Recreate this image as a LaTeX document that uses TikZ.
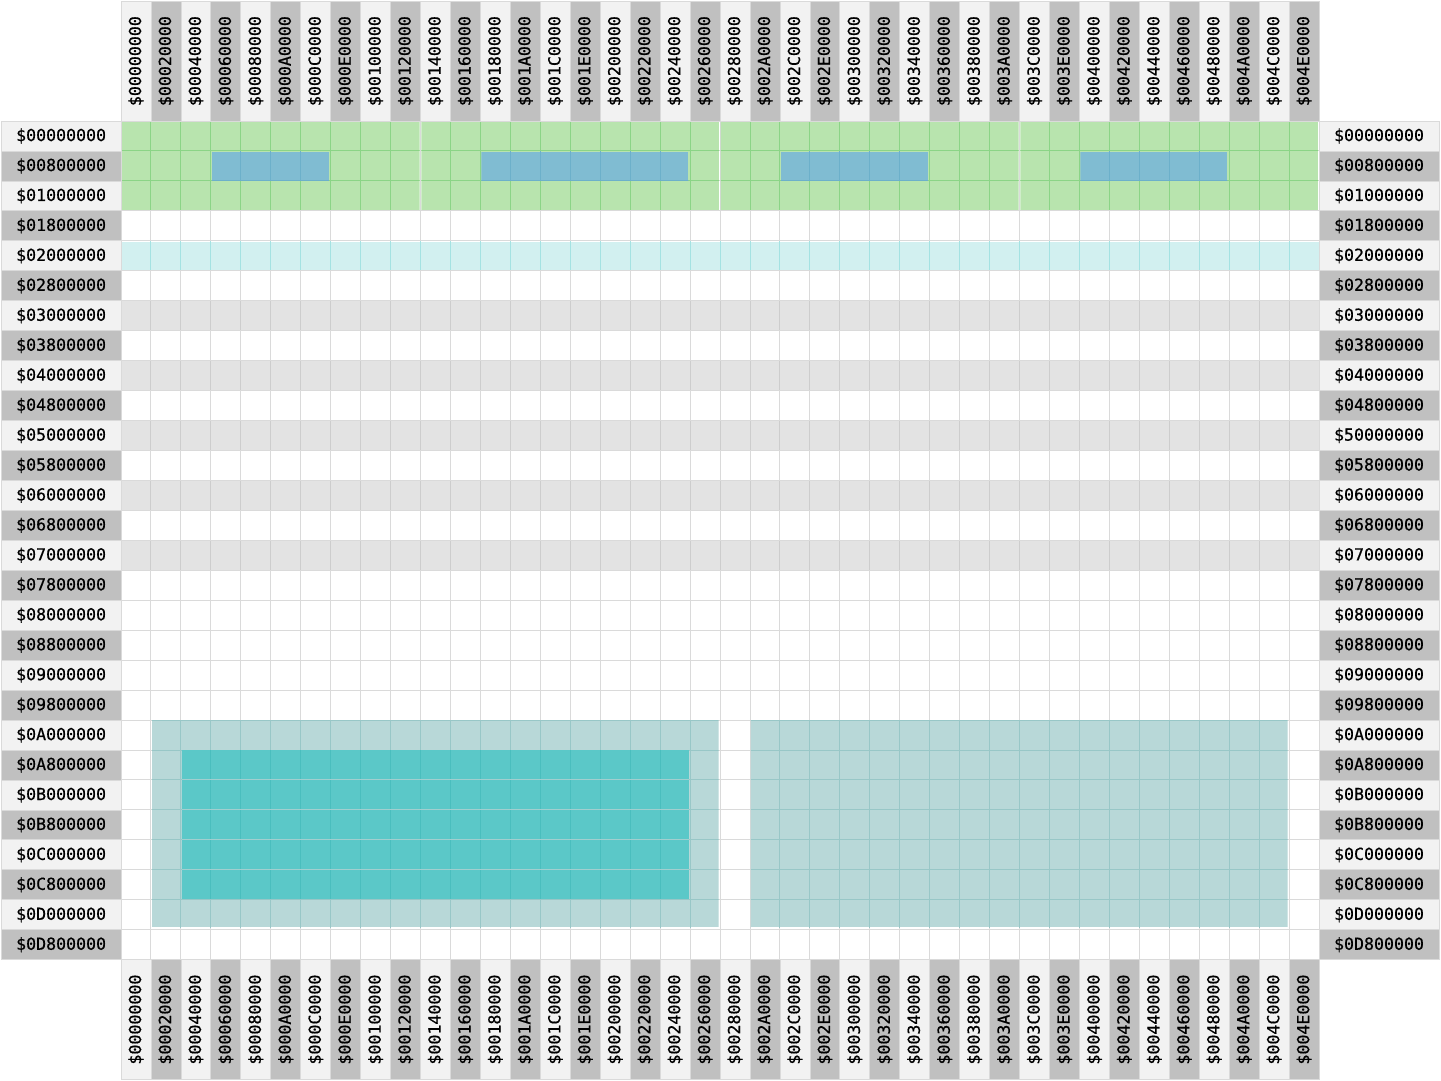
\documentclass[tikz,border=0pt]{standalone}
\usepackage{fontspec}
\newfontfamily\labfont[FakeBold=0.6]{DejaVu Sans Mono}
\definecolor{lab0}{HTML}{F2F2F2}
\definecolor{lab1}{HTML}{C0C0C0}
\definecolor{labborder}{HTML}{DADADA}
\definecolor{gridline}{HTML}{DADADA}
\definecolor{rowgray}{HTML}{E3E3E3}
\definecolor{rowgrayline}{HTML}{CDCDCD}
\definecolor{cyanfill}{HTML}{D2F0F0}
\definecolor{cyanline}{HTML}{A4E2E2}
\definecolor{greenfill}{HTML}{B8E4AE}
\definecolor{greenline}{HTML}{8BD486}
\definecolor{bluefill}{HTML}{80BCD2}
\definecolor{blueline}{HTML}{6CB0CA}
\definecolor{tealfill}{HTML}{B8D8D8}
\definecolor{tealline}{HTML}{98C7C7}
\definecolor{innerfill}{HTML}{5BC8C8}
\definecolor{innerline}{HTML}{4ABEBE}
\definecolor{innerhline}{HTML}{A2CFCF}
\tikzset{
  labcell/.style={draw=labborder, line width=0.8pt, inner sep=0pt,
    minimum width=119.8pt, minimum height=29.95pt,
    font=\labfont\fontsize{16.6}{18}\selectfont, text=black},
  gline/.style={line width=1pt}
}
\newcommand{\cellgrid}[1]{%
  \foreach \gc in {0,...,40} { \draw[#1, gline] (\gc,0) -- (\gc,28); }
  \foreach \gr in {0,...,28} { \draw[#1, gline] (0,\gr) -- (40,\gr); }}
\newcommand{\region}[6]{%
  \begin{scope}
    \clip (#1,#2) rectangle (#3,#4);
    \fill[#5] (#1,#2) rectangle (#3,#4);
    \cellgrid{#6}
  \end{scope}}
\begin{document}
\begin{tikzpicture}[x=29.95pt,y=-29.95pt]
\useasboundingbox[fill=white] (-4.04,-4.04) rectangle (44.07,32.05);
% gray rows
\foreach \r in {6,8,10,12,14} {
  \fill[rowgray] (0,\r) rectangle (40,\r+1);
}
% base grid
\cellgrid{gridline}
\foreach \r in {6,8,10,12,14} {
  \begin{scope}
    \clip (0,\r+0.03) rectangle (40,\r+0.97);
    \foreach \gc in {0,...,40} { \draw[rowgrayline, gline] (\gc,\r) -- (\gc,\r+1); }
  \end{scope}
}
% cyan row
\region{0}{4.03}{40}{4.97}{cyanfill}{cyanline}
% green blocks
\foreach \k in {0,1,2,3} {
  \region{10*\k+0.03}{0.02}{10*\k+9.97}{2.97}{greenfill}{greenline}
}
% blue blocks
\region{3.03}{1.03}{6.94}{1.97}{bluefill}{blueline}
\region{12.03}{1.03}{18.94}{1.97}{bluefill}{blueline}
\region{22.03}{1.03}{26.94}{1.97}{bluefill}{blueline}
\region{32.03}{1.03}{36.94}{1.97}{bluefill}{blueline}
% teal regions
\region{1.03}{20.03}{19.95}{26.92}{tealfill}{tealline}
\region{21.03}{20.03}{38.95}{26.92}{tealfill}{tealline}
% inner teal
\begin{scope}
  \clip (2.03,21.03) rectangle (18.96,25.97);
  \fill[innerfill] (2,21) rectangle (19,26);
  \foreach \c in {3,...,18} { \draw[innerline, gline] (\c,21) -- (\c,26); }
  \foreach \r in {22,...,25} { \draw[innerhline, gline] (2,\r) -- (19,\r); }
\end{scope}
% row labels
\foreach \lab [count=\i from 0, evaluate=\i as \m using {int(mod(\i,2))}] in
 {00000000,00800000,01000000,01800000,02000000,02800000,03000000,03800000,
  04000000,04800000,05000000,05800000,06000000,06800000,07000000,07800000,
  08000000,08800000,09000000,09800000,0A000000,0A800000,0B000000,0B800000,
  0C000000,0C800000,0D000000,0D800000} {
  \node[labcell, fill=lab\m] (l\i) at (-2,\i+0.5) {\$\lab};
}
\foreach \lab [count=\i from 0, evaluate=\i as \m using {int(mod(\i,2))}] in
 {00000000,00800000,01000000,01800000,02000000,02800000,03000000,03800000,
  04000000,04800000,50000000,05800000,06000000,06800000,07000000,07800000,
  08000000,08800000,09000000,09800000,0A000000,0A800000,0B000000,0B800000,
  0C000000,0C800000,0D000000,0D800000} {
  \node[labcell, fill=lab\m] (r\i) at (42,\i+0.5) {\$\lab};
}
% column labels
\foreach \lab [count=\i from 0, evaluate=\i as \m using {int(mod(\i,2))}] in
 {00000000,00020000,00040000,00060000,00080000,000A0000,000C0000,000E0000,
  00100000,00120000,00140000,00160000,00180000,001A0000,001C0000,001E0000,
  00200000,00220000,00240000,00260000,00280000,002A0000,002C0000,002E0000,
  00300000,00320000,00340000,00360000,00380000,003A0000,003C0000,003E0000,
  00400000,00420000,00440000,00460000,00480000,004A0000,004C0000,004E0000} {
  \node[labcell, fill=lab\m, rotate=90] (t\i) at (\i+0.5,-2) {\$\lab};
  \node[labcell, fill=lab\m, rotate=90] (b\i) at (\i+0.5,30) {\$\lab};
}
\end{tikzpicture}
\end{document}
